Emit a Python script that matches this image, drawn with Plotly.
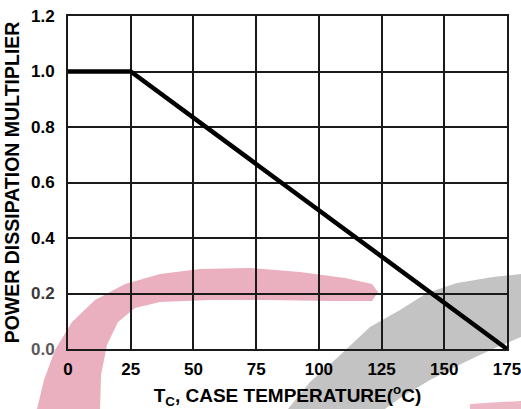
import plotly.graph_objects as go

# Derating curve: power dissipation multiplier vs case temperature
case_temp_c = [0, 25, 175]
multiplier = [1.0, 1.0, 0.0]

x_ticks = [0, 25, 50, 75, 100, 125, 150, 175]
y_ticks = [0.0, 0.2, 0.4, 0.6, 0.8, 1.0, 1.2]

W, H = 521, 409
ML, MR, MT, MB = 68, 14, 16, 60
PW, PH = W - ML - MR, H - MT - MB


def to_paper(pts):
    """Convert pixel points (from the top-left of the page) to a paper-space SVG path."""
    out = []
    for i, (px, py) in enumerate(pts):
        xp = (px - ML) / PW
        yp = (H - MB - py) / PH
        out.append(("M" if i == 0 else "L") + f"{xp:.4f},{yp:.4f}")
    return " ".join(out) + " Z"


# Faint logo arcs printed behind the chart
pink_arc = [
    (37, 409), (44, 380), (55, 350), (72, 322), (95, 300), (125, 284), (160, 274),
    (200, 269), (250, 268), (300, 272), (345, 278), (372, 284), (378, 292),
    (372, 301), (330, 301), (270, 300), (210, 300), (160, 302), (135, 308),
    (118, 322), (107, 345), (101, 375), (100, 409),
]
gray_arc = [
    (288, 409), (310, 382), (337, 358), (370, 327), (400, 310), (427, 293),
    (457, 283), (493, 277), (521, 274), (521, 337), (495, 348), (465, 362),
    (430, 380), (400, 398), (385, 409),
]
pink_tail = [(470, 404), (500, 402), (521, 401), (521, 409), (470, 409)]

fig = go.Figure()
fig.add_trace(go.Scatter(
    x=case_temp_c, y=multiplier, mode="lines",
    line=dict(color="black", width=4.5),
    hoverinfo="skip", showlegend=False, cliponaxis=False,
))

shapes = []
for path, col in [(pink_arc, "#EAB0BF"), (gray_arc, "#C3C3C3"), (pink_tail, "#EDB8C5")]:
    shapes.append(dict(type="path", xref="paper", yref="paper", path=to_paper(path),
                       fillcolor=col, line=dict(width=0), layer="below"))

font_family = "Liberation Sans, Arial, sans-serif"
tick_font = dict(family=font_family, size=17, color="black")
title_font = dict(family=font_family, size=19, color="black")

y_tick_colors = {0.0: "#5a5a5a", 0.2: "#3a3a3a"}
y_ticktext = [f"<span style='color:{y_tick_colors.get(v, 'black')}'><b>{v:.1f}</b></span>"
              for v in y_ticks]

fig.update_layout(
    width=W, height=H,
    margin=dict(l=ML, r=MR, t=MT, b=MB, autoexpand=False),
    paper_bgcolor="white",
    plot_bgcolor="rgba(0,0,0,0)",
    shapes=shapes,
    xaxis=dict(
        range=[0, 175], tickvals=x_ticks,
        ticktext=[f"<b>{v}</b>" for v in x_ticks],
        tickfont=tick_font, ticks="", ticklabelstandoff=4,
        ticklabeloverflow="allow",
        showgrid=True, gridcolor="#1a1a1a", gridwidth=1.5,
        showline=True, linecolor="#1a1a1a", linewidth=2, mirror=True,
        zeroline=False, automargin=False,
        title=dict(text="<b>T<sub>C</sub>, CASE TEMPERATURE(<sup>o</sup>C)</b>",
                   font=title_font, standoff=12),
    ),
    yaxis=dict(
        range=[0, 1.2], tickvals=y_ticks,
        ticktext=y_ticktext,
        tickfont=tick_font, ticks="", ticklabelstandoff=8,
        ticklabeloverflow="allow",
        showgrid=True, gridcolor="#1a1a1a", gridwidth=1.5,
        showline=True, linecolor="#1a1a1a", linewidth=2, mirror=True,
        zeroline=False, automargin=False,
        title=dict(text="<b>POWER DISSIPATION MULTIPLIER</b>",
                   font=dict(family=font_family, size=19.5, color="black"), standoff=6),
    ),
)

fig.write_html("out.html")
